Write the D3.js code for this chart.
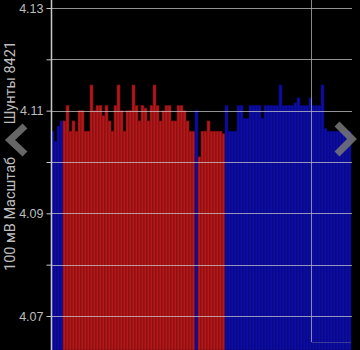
<!DOCTYPE html>
<html>
<head>
<meta charset="utf-8">
<script src="https://cdn.jsdelivr.net/npm/d3@7"></script>
<style>
  html, body { margin: 0; padding: 0; background: #000; }
  svg { display: block; }
</style>
</head>
<body>
<div id="chart"></div>
<script>
// one value per bar, left to right
var values = [
  4.106, 4.104, 4.107, 4.108,
  4.108, 4.111, 4.106, 4.108, 4.106, 4.110, 4.110, 4.106, 4.106, 4.115,
  4.110, 4.111, 4.111, 4.109, 4.111, 4.108, 4.106, 4.111, 4.115, 4.110,
  4.106, 4.110, 4.110, 4.115, 4.111, 4.108, 4.111, 4.1105, 4.108, 4.111,
  4.115, 4.111, 4.108, 4.110, 4.111, 4.111, 4.108, 4.108, 4.111, 4.111,
  4.110, 4.108, 4.106, 4.106,
  4.110,
  4.101, 4.106, 4.106, 4.108, 4.106, 4.106, 4.106, 4.106, 4.1055,
  4.111, 4.106, 4.106, 4.106, 4.111, 4.111, 4.1085, 4.1085, 4.111, 4.111,
  4.111, 4.111, 4.1085, 4.111, 4.111, 4.111, 4.111, 4.111, 4.115, 4.111,
  4.111, 4.111, 4.111, 4.1115, 4.1125, 4.111, 4.111, 4.111, 4.1125, 4.111,
  4.111, 4.111, 4.115, 4.1065, 4.106, 4.106, 4.106, 4.106, 4.106, 4.106,
  4.106, 4.106
];
// 0 = blue, 1 = red
var groups = [
  0, 0, 0, 0,
  1, 1, 1, 1, 1, 1, 1, 1, 1, 1,
  1, 1, 1, 1, 1, 1, 1, 1, 1, 1,
  1, 1, 1, 1, 1, 1, 1, 1, 1, 1,
  1, 1, 1, 1, 1, 1, 1, 1, 1, 1,
  1, 1, 1, 1,
  0,
  1, 1, 1, 1, 1, 1, 1, 1, 1,
  0, 0, 0, 0, 0, 0, 0, 0, 0, 0,
  0, 0, 0, 0, 0, 0, 0, 0, 0, 0,
  0, 0, 0, 0, 0, 0, 0, 0, 0, 0,
  0, 0, 0, 0, 0, 0, 0, 0, 0, 0,
  0, 0
];
var gridTicks = [4.07, 4.08, 4.09, 4.10, 4.11, 4.12, 4.13];
var labelTicks = [4.07, 4.09, 4.11, 4.13];
var titleScale = "100 мВ Масштаб";
var titleShunts = "Шунты 8421";
var cursorIndex = 86;

var W = 360, H = 350;
var left = 51, right = 351;
var fills = ["#0c0ca6", "#b3181a"];
var strokes = ["#07076e", "#760c0c"];

var svg = d3.select("#chart").append("svg")
  .attr("width", W).attr("height", H)
  .style("font-family", "Roboto, sans-serif");

svg.append("rect").attr("width", W).attr("height", H).attr("fill", "#000");

var x = d3.scaleBand().domain(d3.range(values.length)).range([left, right]).padding(0);
var y = d3.scaleLinear().domain([4.07, 4.13]).range([316, 8]);

// bars run down past the bottom of the window
svg.append("g").selectAll("rect").data(values).enter().append("rect")
  .attr("x", (d, i) => x(i))
  .attr("y", d => y(d))
  .attr("width", x.bandwidth())
  .attr("height", d => H - y(d))
  .attr("fill", (d, i) => fills[groups[i]])
  .attr("stroke", (d, i) => strokes[groups[i]])
  .attr("stroke-width", 0.6);

// grid
svg.append("g").selectAll("line").data(gridTicks).enter().append("line")
  .attr("x1", left).attr("x2", right + 1)
  .attr("y1", d => Math.round(y(d)) + 0.5).attr("y2", d => Math.round(y(d)) + 0.5)
  .attr("stroke", "rgba(210,210,210,0.7)").attr("stroke-width", 1);

// cursor line
var cx = Math.round(x(cursorIndex) + x.bandwidth() / 2) + 0.5;
svg.append("line")
  .attr("x1", cx).attr("x2", cx).attr("y1", 0).attr("y2", 342)
  .attr("stroke", "rgba(170,170,170,0.8)").attr("stroke-width", 1);
svg.append("line")
  .attr("x1", cx).attr("x2", right).attr("y1", 342.5).attr("y2", 342.5)
  .attr("stroke", "rgba(150,150,150,0.35)").attr("stroke-width", 1);

// y axis
var yAxis = d3.axisLeft(y).tickValues(gridTicks).tickSize(5).tickPadding(3)
  .tickFormat(d => labelTicks.some(t => Math.abs(t - d) < 1e-9) ? d3.format(".2f")(d) : "");
var ag = svg.append("g").attr("transform", "translate(" + (left + 0.5) + ",0)").call(yAxis);
ag.select(".domain").remove();
ag.selectAll("line").attr("stroke", "#c8c8c8");
ag.selectAll("text").attr("fill", "#bdbdbd").style("font-size", "12.5px");
svg.append("line")
  .attr("x1", left + 0.5).attr("x2", left + 0.5).attr("y1", 0).attr("y2", H)
  .attr("stroke", "#c8c8c8").attr("stroke-width", 1.5);

// axis title, two parts
svg.append("text")
  .attr("transform", "translate(15,271) rotate(-90)")
  .attr("text-anchor", "start")
  .attr("fill", "#bdbdbd")
  .style("font-size", "14.5px")
  .text(titleScale);
svg.append("text")
  .attr("transform", "translate(15,41) rotate(-90)")
  .attr("text-anchor", "end")
  .attr("fill", "#bdbdbd")
  .style("font-size", "14.5px")
  .text(titleShunts);

// paging chevrons
var chev = d3.line();
svg.append("path")
  .attr("d", chev([[25, 126], [10, 140], [25, 154]]))
  .attr("fill", "none").attr("stroke", "rgba(120,120,120,0.85)").attr("stroke-width", 7);
svg.append("path")
  .attr("d", chev([[337, 124], [352, 139], [337, 154]]))
  .attr("fill", "none").attr("stroke", "rgba(120,120,120,0.85)").attr("stroke-width", 7);
</script>
</body>
</html>
